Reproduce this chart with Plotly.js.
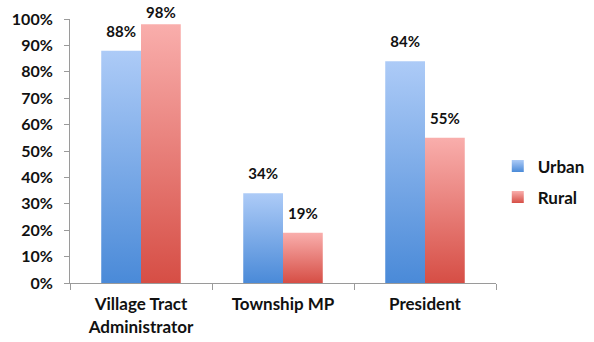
<!DOCTYPE html>
<html>
<head>
<meta charset="utf-8">
<script src="https://cdn.plot.ly/plotly-3.0.1.min.js"></script>
<style>html,body{margin:0;padding:0;background:#fff;}#chart{width:594px;height:342px;}</style>
</head>
<body>
<div id="chart"></div>
<script>
const categories = ["Village Tract<br>Administrator", "Township MP", "President"];
const urban = [0.88, 0.34, 0.84];
const rural = [0.98, 0.19, 0.55];
const seriesNames = ["Urban", "Rural"];

const fam = "Lato, 'Open Sans', sans-serif";
const labelFont = {family: fam, size: 15, color: "#111", weight: "bold"};

const traces = [
  {type: "bar", name: seriesNames[0], legendgroup: "u", x: categories, y: urban,
   marker: {color: "#7aaae8"}, text: urban.map(v => Math.round(v*100) + "%"),
   textposition: "outside", cliponaxis: false, textfont: labelFont},
  {type: "bar", name: seriesNames[1], legendgroup: "r", x: categories, y: rural,
   marker: {color: "#e8807b"}, text: rural.map(v => Math.round(v*100) + "%"),
   textposition: "outside", cliponaxis: false, textfont: labelFont}
];

const layout = {
  width: 594, height: 342,
  margin: {l: 70, r: 98, t: 19, b: 59},
  paper_bgcolor: "#fff", plot_bgcolor: "#fff",
  font: {family: fam, size: 15, color: "#111"},
  barmode: "group", bargap: 0.44, bargroupgap: 0,
  showlegend: true,
  legend: {xref: "container", yref: "container", x: 0.838, y: 0.468, yanchor: "middle", xanchor: "left",
           font: {family: fam, size: 17, color: "#111", weight: "bold"},
           traceorder: "grouped", tracegroupgap: 6, itemwidth: 30},
  xaxis: {type: "category", showline: true, linecolor: "#9a9a9a", linewidth: 1,
          ticks: "outside", tickson: "boundaries", ticklen: 6, tickcolor: "#9a9a9a",
          ticklabelstandoff: 6,
          tickfont: {family: fam, size: 17, color: "#111", weight: "bold"},
          showgrid: false, zeroline: false, fixedrange: true},
  yaxis: {range: [0, 1], dtick: 0.1, tickformat: ".0%", showline: true, linecolor: "#9a9a9a",
          linewidth: 1, ticks: "outside", ticklen: 5, tickcolor: "#9a9a9a",
          ticklabelstandoff: 8,
          tickfont: {family: fam, size: 16, color: "#111", weight: "bold"},
          showgrid: false, zeroline: false, fixedrange: true}
};

Plotly.newPlot("chart", traces, layout, {displayModeBar: false, staticPlot: true}).then(gd => {
  const svg = gd.querySelector("svg.main-svg");
  const ns = "http://www.w3.org/2000/svg";
  const defs = document.createElementNS(ns, "defs");
  const grads = {blue: ["#adcbf7", "#4a8ad8"], red: ["#f9aeac", "#d64e45"]};
  for (const k in grads) {
    const g = document.createElementNS(ns, "linearGradient");
    g.setAttribute("id", "grad-" + k);
    g.setAttribute("x1", "0"); g.setAttribute("y1", "0");
    g.setAttribute("x2", "0"); g.setAttribute("y2", "1");
    [[0, grads[k][0]], [1, grads[k][1]]].forEach(([o, c]) => {
      const s = document.createElementNS(ns, "stop");
      s.setAttribute("offset", o); s.setAttribute("stop-color", c);
      g.appendChild(s);
    });
    defs.appendChild(g);
  }
  svg.insertBefore(defs, svg.firstChild);
  const svgTop = svg.getBoundingClientRect().top;
  const traceGroups = gd.querySelectorAll(".barlayer .trace");
  traceGroups.forEach((t, i) => {
    t.querySelectorAll("path").forEach(p => { p.style.fill = i === 0 ? "url(#grad-blue)" : "url(#grad-red)"; });
    t.querySelectorAll("text").forEach(tx => {
      const top = tx.getBoundingClientRect().top - svgTop;
      const shift = Math.max(0, Math.min(8, top - 9));
      const tr = tx.getAttribute("transform") || "";
      tx.setAttribute("transform", "translate(0," + (-shift) + ") " + tr);
    });
  });
  const legendPts = gd.querySelectorAll(".legend .traces");
  legendPts.forEach((t, i) => {
    t.querySelectorAll(".legendpoints path").forEach(p => { p.style.fill = i === 0 ? "url(#grad-blue)" : "url(#grad-red)"; p.style.stroke = "none"; });
  });
});
</script>
</body>
</html>
